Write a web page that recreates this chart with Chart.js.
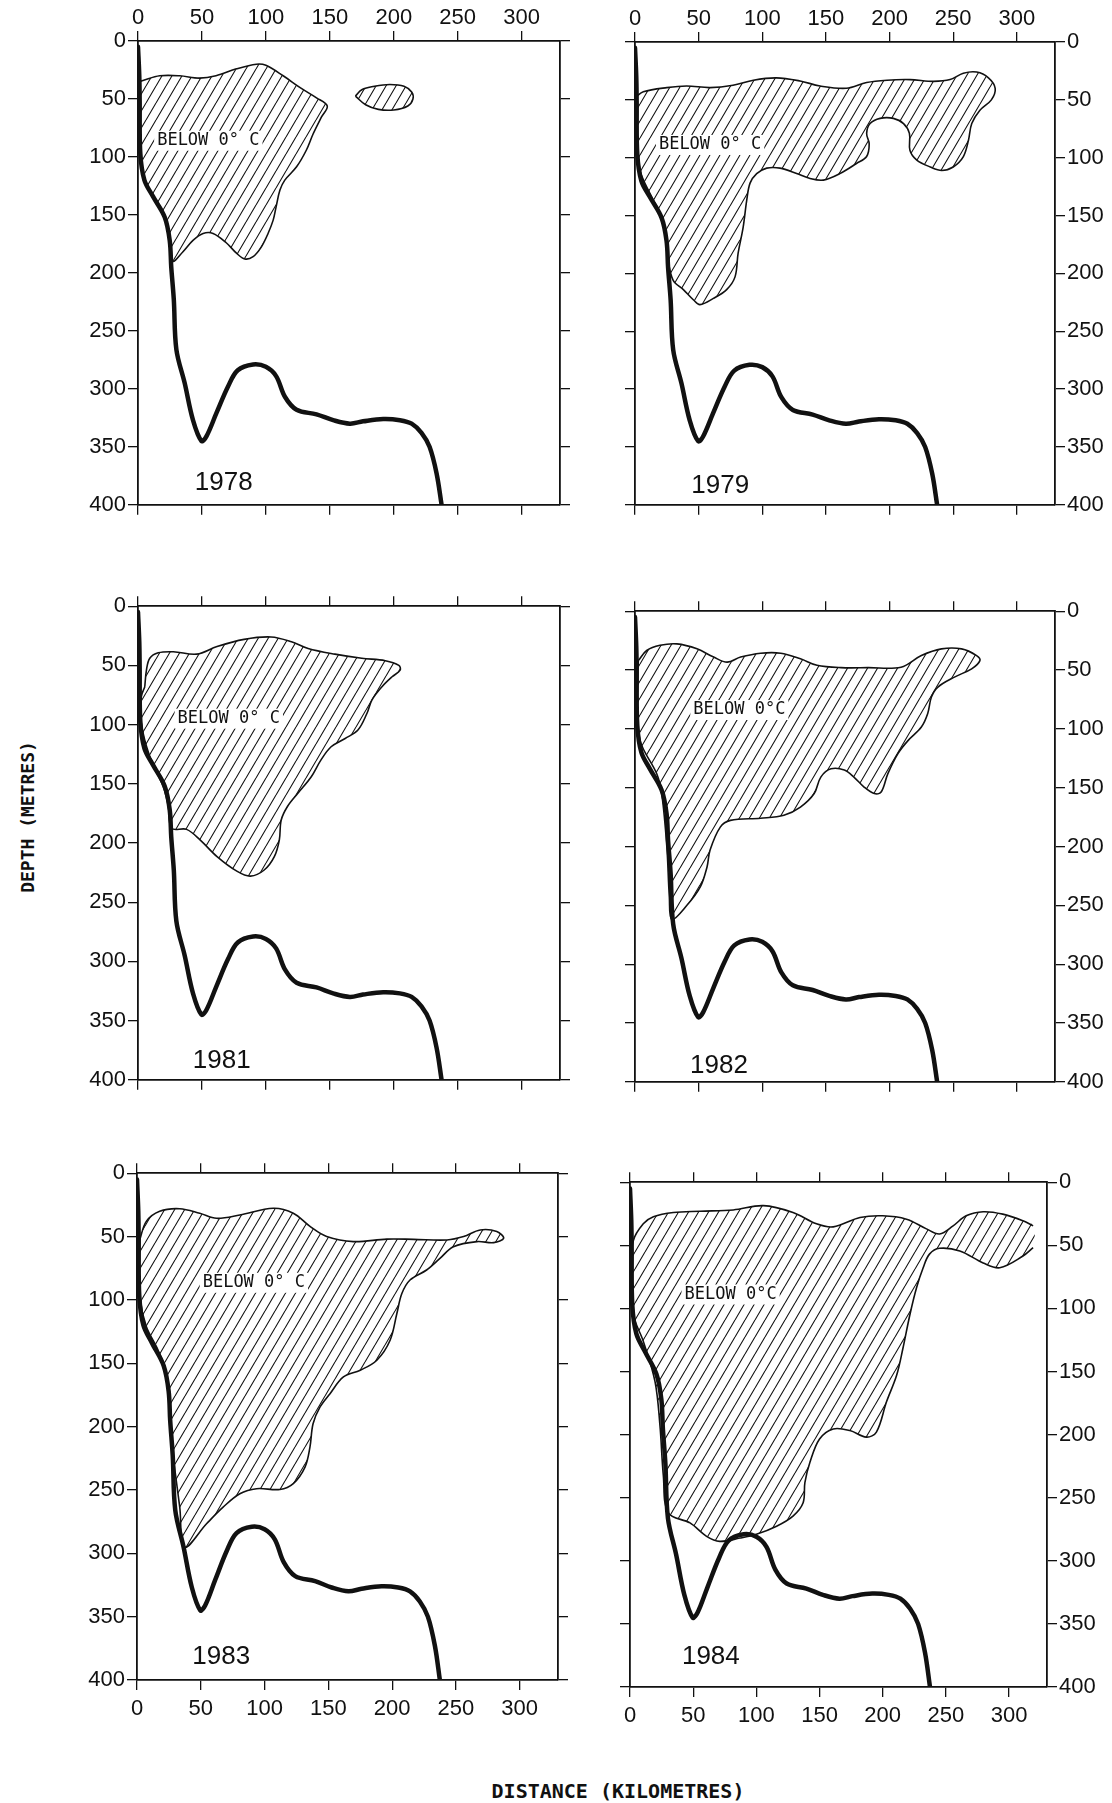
<!DOCTYPE html>
<html>
<head>
<meta charset="utf-8">
<script src="https://cdn.jsdelivr.net/npm/chart.js@4.4.1/dist/chart.umd.min.js"></script>
<style>
  html, body { margin: 0; padding: 0; background: #fff; }
  body { position: relative; width: 1112px; height: 1803px; overflow: hidden; }
  canvas { position: absolute; }
  .axis-title { position: absolute; font-family: "DejaVu Sans Mono", monospace; font-weight: bold; color: #111; white-space: nowrap; }
</style>
</head>
<body>
<div class="axis-title" style="left:27px; top:817px; font-size:18px; transform:translate(-50%,-50%) rotate(-90deg);">DEPTH (METRES)</div>
<div class="axis-title" style="left:618px; top:1791px; font-size:20px; transform:translate(-50%,-50%);">DISTANCE (KILOMETRES)</div>

<script>
// axis ticks
const distanceTicks = [0, 50, 100, 150, 200, 250, 300];
const depthTicks = [0, 50, 100, 150, 200, 250, 300, 350, 400];

// sea floor profile [km, m], same section every year
const seabed = [[0, 5], [1, 30], [1.3, 51], [1.8, 97], [5, 120], [11.7, 134], [20.9, 152], [24.8, 172],
  [26, 195], [28, 223], [30, 266], [36.5, 295], [43, 327], [49.6, 345], [53.5, 341], [61.3, 321],
  [70.4, 298], [78, 284], [90, 279], [100, 281], [108, 289], [115, 307], [124, 318], [139.6, 322],
  [152.6, 327], [165.7, 330], [176, 328], [191.7, 326], [204.8, 327], [214, 330], [221.7, 338],
  [228, 350], [233.5, 373], [237.4, 400]];

// water below 0 deg C, outlines [km, m]
const cold1978 = [[1.3, 35], [3.9, 34], [17, 30], [32.6, 30], [48, 32], [61, 30], [77, 24], [92.6, 20],
  [100, 21], [113.5, 30], [126.5, 40], [139.6, 49], [148, 56], [143.5, 65.5], [137, 80], [131.7, 94],
  [124, 108.5], [114.8, 120], [111, 128.6], [108, 143], [105.7, 154.5], [101.7, 166], [96.5, 177.5],
  [90, 186], [83.5, 188], [77, 183], [69, 174], [58.7, 166], [50.9, 166], [43, 172], [35, 182], [27, 190],
  [24.8, 172], [20.9, 152], [11.7, 134], [5.2, 120], [1.8, 97], [1.3, 51], [1.3, 35]];
const cold1978b = [[170, 47.5], [175, 42], [185, 39], [197, 37.5], [208, 39], [214, 44], [215, 50],
  [211, 56], [200, 59.5], [188, 59], [178, 55], [170, 47.5]];
const cold1979 = [[0.8, 47.5], [6.5, 43], [25, 39.4], [40.6, 38], [59, 39.4], [77, 37.4], [93, 33],
  [111, 31], [129.7, 33.7], [145.4, 38], [166, 40], [182, 35], [198, 33], [216, 32.5], [234.5, 34],
  [247.6, 32.5], [258, 27], [268.5, 26], [277.7, 31], [283, 40], [280, 50], [271, 59], [264.6, 70.5],
  [262, 85], [258, 99], [250, 108], [241, 111], [232, 108], [221.4, 102], [216, 93.5], [215.6, 79],
  [211, 70.5], [203, 66], [192.6, 66], [184.7, 70.5], [182, 79], [184, 88], [182, 99], [174, 105],
  [161, 113.7], [148, 119.4], [137.5, 118], [127, 113.7], [114, 109], [103.5, 109], [95.6, 113.7],
  [90.4, 122], [87.8, 136.7], [85, 160], [81, 182.7], [78.6, 203], [72, 214], [61.6, 221.6], [51, 227],
  [46, 223], [38, 214], [30, 206], [26, 188.5], [23.6, 165], [19.6, 148], [11.8, 131], [4, 111],
  [1.8, 79], [0.8, 47.5]];
const cold1981 = [[5.3, 68], [6.6, 54], [9.2, 44], [15.8, 39.4], [27.6, 38.5], [46, 40.5], [61.8, 34],
  [83, 28], [104, 26], [120, 30], [133, 35.7], [154, 40.5], [175, 44], [193.4, 46], [204, 50], [205, 54],
  [198.7, 59.6], [190.8, 68], [182.9, 79.3], [179, 90.6], [172, 104.6], [162, 111.7], [151, 118.7],
  [143, 130], [135.5, 144], [125, 158], [117, 169], [112, 180.6], [110.5, 197.5], [106.6, 211.5],
  [98.7, 222.8], [88, 228], [77.6, 224], [61.8, 211.5], [48.7, 197.5], [38, 188.5], [26.3, 187.6],
  [23.7, 169], [19.7, 152.5], [9.2, 127], [2.6, 99], [2.6, 76.5], [5.3, 68]];
const cold1982 = [[2.6, 42], [9.2, 33.4], [19.7, 29], [32.9, 27.8], [48.7, 32], [61.8, 39], [72.4, 43.3],
  [83, 39], [98.7, 35.7], [114.5, 35.7], [130, 40.5], [143, 46], [161.8, 48], [183, 48], [209, 47.6],
  [225, 37.7], [240.8, 32], [256.6, 32], [268.4, 37.7], [271, 42], [264.5, 49], [251, 56], [238, 64.5],
  [232.9, 73], [230, 87], [225, 98.5], [214.5, 110], [206.6, 121], [198.7, 138], [193.4, 153.7],
  [188, 155], [180, 149.5], [172, 141], [164.5, 135], [154, 134], [146, 141], [140.8, 155], [130, 166.5],
  [117, 173.5], [98.7, 176], [75, 177.8], [67, 183.5], [59, 203], [56.6, 217.4], [51.3, 234.4],
  [40.8, 250], [29, 262], [27, 243], [25, 200], [21, 155], [17, 138], [4, 110], [1.8, 73], [2.6, 42]];
const cold1983 = [[2.1, 52.7], [7.3, 38], [17.8, 30], [33.5, 28], [49.2, 31.6], [62.3, 35.6], [80.6, 33],
  [106.8, 27.7], [122.5, 31.6], [135.6, 42], [148.7, 50], [169.6, 54], [195.8, 52], [216.8, 52.2],
  [243, 52.7], [256, 50], [269, 44.8], [282, 46], [287.4, 51.4], [279.6, 54.8], [266.5, 54], [248, 58],
  [237.7, 67], [227, 76.4], [214, 84.3], [207.6, 95], [203.7, 110.7], [198.4, 131.8], [188, 147.6],
  [175, 155.5], [161.8, 160.8], [151.3, 174], [143.5, 184.5], [138, 197.7], [135.6, 216], [131.7, 232],
  [122.5, 245], [112, 249.6], [93.7, 249], [80.6, 253], [67.5, 263.6], [54.5, 276.7], [37.4, 295],
  [33.5, 263.6], [27, 211], [23, 158], [16.5, 139.7], [7.3, 121], [2.6, 100], [1.6, 66], [2.1, 52.7]];
const cold1984 = [[2.6, 46.5], [10.5, 33], [18.5, 27.4], [34.3, 24], [55.4, 23], [81.7, 22], [105.5, 18.6],
  [129, 24], [147.6, 33], [160.8, 35.4], [182, 28], [200, 26.6], [218.8, 29.3], [234.6, 37], [245, 41],
  [255.7, 34.6], [266, 26.6], [279.5, 23.4], [295, 25.3], [311, 30.6], [319, 34.6], [319, 51.9],
  [311, 58.5], [292.6, 67.8], [279.5, 64], [261, 54.5], [245, 52.4], [237, 57], [232, 67.8],
  [226.7, 83.8], [221.5, 105], [216, 131.6], [211, 153], [203, 174], [195, 198], [187, 202],
  [174, 196.8], [160.8, 195.5], [150, 203.5], [142.4, 222], [138.4, 238], [137, 254], [129, 264.6],
  [116, 272.6], [100, 279], [87, 282], [71, 284.6], [60.6, 280.6], [47.5, 270], [30.3, 262],
  [26.4, 232.7], [23.7, 192.8], [19.8, 158], [10.5, 126], [2.6, 105], [1.3, 73], [2.6, 46.5]];

// page layout: plot area [left, top, right, bottom] in px, label spots in km / m
const panels = [
  { year: '1978', row: 0, col: 0, area: [138, 41, 560, 505], cold: [cold1978, cold1978b], note: 'BELOW 0° C', noteAt: [55, 86], yearAt: [67, 381] },
  { year: '1979', row: 0, col: 1, area: [635, 42, 1055, 505], cold: [cold1979], note: 'BELOW 0° C', noteAt: [59, 89], yearAt: [67, 384] },
  { year: '1981', row: 1, col: 0, area: [138, 606, 560, 1080], cold: [cold1981], note: 'BELOW 0° C', noteAt: [71, 95], yearAt: [65.5, 384] },
  { year: '1982', row: 1, col: 1, area: [635, 611, 1055, 1082], cold: [cold1982], note: 'BELOW 0°C', noteAt: [82, 84], yearAt: [66, 386] },
  { year: '1983', row: 2, col: 0, area: [137, 1173, 558, 1680], cold: [cold1983], note: 'BELOW 0° C', noteAt: [91.6, 86.5], yearAt: [66, 382] },
  { year: '1984', row: 2, col: 1, area: [630, 1182, 1047, 1687], cold: [cold1984], note: 'BELOW 0°C', noteAt: [79.6, 89], yearAt: [64, 376] }
];

const INK = '#111';
const toXY = pts => pts.map(([x, y]) => ({ x, y }));

// outline of a cold patch; where it runs off to the right edge (1984) the end is left open
function outlineOf(poly) {
    const k = poly.findIndex((pt, i) => i < poly.length - 1 && pt[0] > 315 && poly[i + 1][0] > 315);
    if (k < 0) return poly;
    return poly.slice(k + 1).concat(poly.slice(1, k + 1));
}

function hatchPattern() {
    const w = 10, h = 17;
    const tile = document.createElement('canvas');
    tile.width = w;
    tile.height = h;
    const g = tile.getContext('2d');
    g.strokeStyle = INK;
    g.lineWidth = 1.1;
    g.beginPath();
    for (const dx of [-w, 0, w]) {
        g.moveTo(dx, h);
        g.lineTo(dx + w, 0);
    }
    g.stroke();
    return g.createPattern(tile, 'repeat');
}

// "BELOW 0° C" and the year, written inside the plot
const notesPlugin = {
    id: 'notes',
    afterDatasetsDraw(chart, args, opts) {
        const { ctx, scales } = chart;
        const nx = scales.x.getPixelForValue(opts.noteAt[0]);
        const ny = scales.y.getPixelForValue(opts.noteAt[1]);
        ctx.save();
        ctx.font = '17px "DejaVu Sans Mono"';
        const tw = ctx.measureText(opts.note).width;
        ctx.fillStyle = '#fff';
        ctx.fillRect(nx - tw / 2 - 3, ny - 10, tw + 6, 20);
        ctx.fillStyle = INK;
        ctx.textAlign = 'center';
        ctx.textBaseline = 'middle';
        ctx.fillText(opts.note, nx, ny);
        ctx.font = '26px "Liberation Sans"';
        ctx.fillText(opts.year, scales.x.getPixelForValue(opts.yearAt[0]), scales.y.getPixelForValue(opts.yearAt[1]));
        ctx.restore();
    }
};

function makeAxis(position, showLabels, size, tickValues, extra) {
    return Object.assign({
        type: 'linear',
        position: position,
        grid: { drawOnChartArea: false, color: INK, lineWidth: 1.3, tickLength: 10 },
        border: { color: INK, width: 1.8 },
        ticks: {
            display: showLabels,
            color: INK,
            padding: position === 'bottom' ? 6 : (position === 'top' ? 0 : 2),
            font: { family: 'Liberation Sans', size: 22 }
        },
        afterBuildTicks: s => { s.ticks = tickValues.map(v => ({ value: v })); },
        afterFit: s => {
            if (position === 'top' || position === 'bottom') s.height = size;
            else s.width = size;
        }
    }, extra);
}

function drawPanel(p) {
    const padL = p.col === 0 ? 72 : 15;
    const padR = p.col === 0 ? 15 : 72;
    const padT = p.row === 0 ? 40 : 15;
    const padB = p.row === 2 ? 45 : 15;
    const [l, t, r, b] = p.area;

    const canvas = document.createElement('canvas');
    canvas.width = (r - l) + padL + padR;
    canvas.height = (b - t) + padT + padB;
    canvas.style.left = (l - padL) + 'px';
    canvas.style.top = (t - padT) + 'px';
    document.body.appendChild(canvas);

    const hatch = hatchPattern();
    const datasets = [{
        data: toXY(seabed),
        showLine: true,
        borderColor: INK,
        borderWidth: 4.5,
        borderCapStyle: 'round',
        tension: 0.35,
        pointRadius: 0,
        fill: false
    }];
    p.cold.forEach(poly => {
        datasets.push({
            data: toXY(outlineOf(poly)),
            showLine: true,
            borderColor: INK,
            borderWidth: 1.6,
            tension: 0.35,
            pointRadius: 0,
            fill: false
        });
        datasets.push({
            data: toXY(poly),
            showLine: true,
            borderColor: 'rgba(0,0,0,0)',
            backgroundColor: hatch,
            fill: 'shape',
            tension: 0.35,
            pointRadius: 0
        });
    });

    const xRange = { min: 0, max: 330 };
    const yRange = { min: 0, max: 400, reverse: true };

    new Chart(canvas.getContext('2d'), {
        type: 'scatter',
        data: { datasets: datasets },
        options: {
            responsive: false,
            animation: false,
            devicePixelRatio: 1,
            events: [],
            layout: { padding: 0 },
            plugins: {
                legend: { display: false },
                tooltip: { enabled: false },
                notes: { note: p.note, noteAt: p.noteAt, year: p.year, yearAt: p.yearAt }
            },
            scales: {
                x: makeAxis('bottom', p.row === 2, padB, distanceTicks, xRange),
                xTop: makeAxis('top', p.row === 0, padT, distanceTicks, Object.assign({ axis: 'x' }, xRange)),
                y: makeAxis('left', p.col === 0, padL, depthTicks, yRange),
                yRight: makeAxis('right', p.col === 1, padR, depthTicks, Object.assign({ axis: 'y' }, yRange))
            }
        },
        plugins: [notesPlugin]
    });
}

panels.forEach(drawPanel);
</script>
</body>
</html>
